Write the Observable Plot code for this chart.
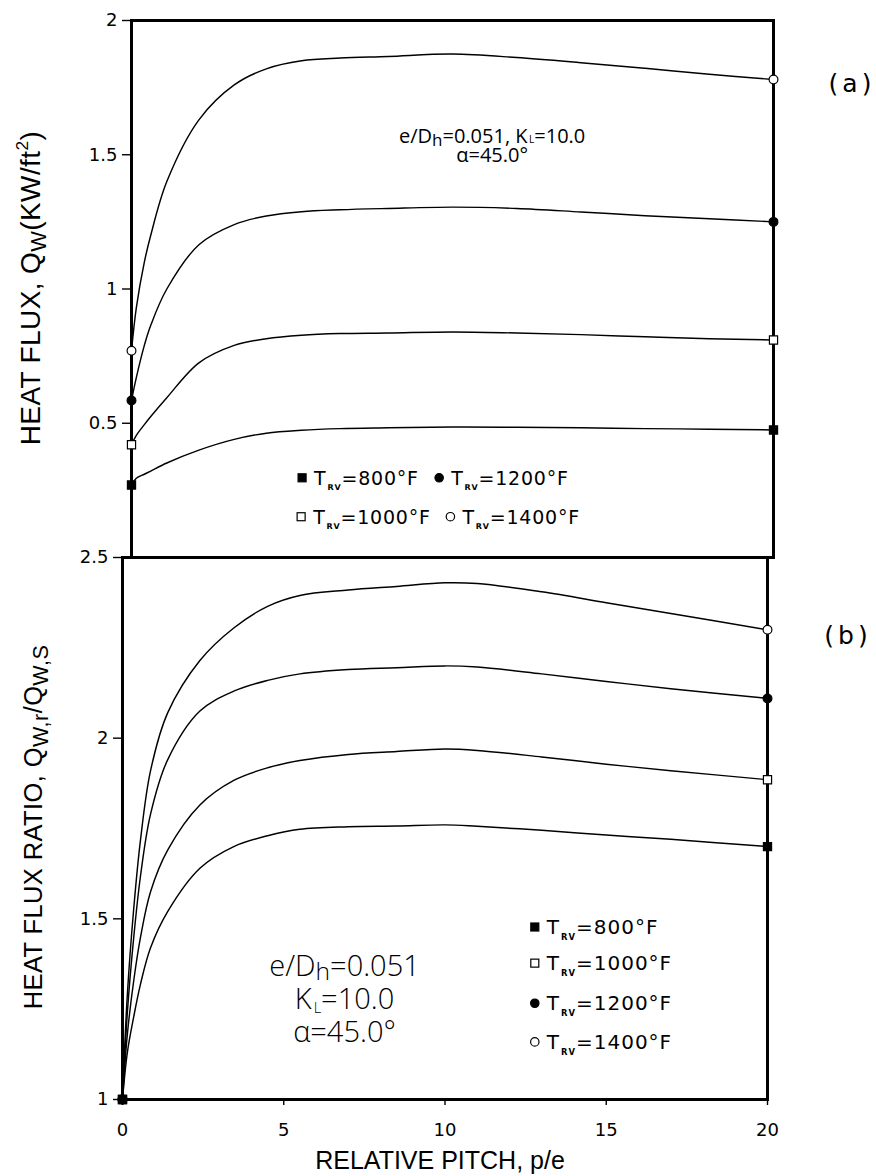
<!DOCTYPE html>
<html>
<head>
<meta charset="utf-8">
<script src="https://cdn.jsdelivr.net/npm/d3@7"></script>
<script src="https://cdn.jsdelivr.net/npm/@observablehq/plot@0.6"></script>
<style>
  html, body { margin: 0; padding: 0; background: #fff; }
  #wrap { position: relative; width: 876px; height: 1176px; overflow: hidden; background: #fff; }
  #wrap svg { position: absolute; left: 0; }
</style>
</head>
<body>
<div id="wrap"></div>
<script>
// ---------------- data ----------------
const seriesNames = ["800", "1000", "1200", "1400"];
const xTicks = [0, 5, 10, 15, 20];
const yTicksA = [0.5, 1, 1.5, 2];
const yTicksB = [1, 1.5, 2, 2.5];

// panel (a): heat flux Q_w (kW/ft^2) vs relative pitch p/e
const pitchA    = [0, 0.15, 0.4, 0.6, 1.1, 2.1, 3.2, 4.2, 5.3, 6.5, 8, 10, 12, 14, 16, 18, 20];
const fluxA800  = [0.27, 0.295, 0.31, 0.322, 0.352, 0.40, 0.44, 0.463, 0.474, 0.48, 0.483, 0.486, 0.485, 0.483, 0.48, 0.478, 0.475];
const fluxA1000 = [0.42, 0.455, 0.495, 0.525, 0.595, 0.725, 0.79, 0.815, 0.828, 0.834, 0.836, 0.84, 0.836, 0.83, 0.822, 0.815, 0.81];
const fluxA1200 = [0.585, 0.67, 0.79, 0.865, 1.00, 1.165, 1.24, 1.272, 1.288, 1.295, 1.30, 1.305, 1.30, 1.287, 1.273, 1.262, 1.25];
const fluxA1400 = [0.77, 0.93, 1.10, 1.20, 1.40, 1.63, 1.76, 1.82, 1.85, 1.86, 1.866, 1.875, 1.862, 1.843, 1.822, 1.80, 1.78];

// panel (b): heat flux ratio vs relative pitch p/e
const pitchB     = [0, 0.15, 0.35, 0.56, 0.87, 1.4, 2.4, 3.45, 4.5, 5.5, 7, 8.5, 10, 11, 13, 15, 17, 20];
const ratioB800  = [1, 1.13, 1.23, 1.32, 1.42, 1.52, 1.64, 1.70, 1.73, 1.748, 1.755, 1.757, 1.76, 1.756, 1.745, 1.732, 1.72, 1.70];
const ratioB1000 = [1, 1.18, 1.33, 1.45, 1.575, 1.69, 1.815, 1.883, 1.918, 1.938, 1.955, 1.963, 1.97, 1.966, 1.948, 1.928, 1.91, 1.885];
const ratioB1200 = [1, 1.24, 1.45, 1.62, 1.79, 1.94, 2.075, 2.13, 2.16, 2.178, 2.19, 2.195, 2.20, 2.197, 2.178, 2.157, 2.137, 2.11];
const ratioB1400 = [1, 1.29, 1.53, 1.72, 1.91, 2.07, 2.215, 2.305, 2.365, 2.395, 2.41, 2.42, 2.43, 2.428, 2.405, 2.375, 2.345, 2.30];

// ---------------- build tables ----------------
const fluxA = {"800": fluxA800, "1000": fluxA1000, "1200": fluxA1200, "1400": fluxA1400};
const ratioB = {"800": ratioB800, "1000": ratioB1000, "1200": ratioB1200, "1400": ratioB1400};
const rowsA = seriesNames.flatMap(s => pitchA.map((p, i) => ({s, p, v: fluxA[s][i], end: i === 0 || i === pitchA.length - 1})));
const rowsB = seriesNames.flatMap(s => pitchB.map((p, i) => ({s, p, v: ratioB[s][i], end: i === 0 || i === pitchB.length - 1})));

const markerStyle = {
  "800":  {symbol: "square", fill: "black", stroke: "black"},
  "1000": {symbol: "square", fill: "white", stroke: "black"},
  "1200": {symbol: "circle", fill: "black", stroke: "black"},
  "1400": {symbol: "circle", fill: "white", stroke: "black"}
};
const markerR = {square: 4.6, circle: 4.4};
const drawOrder = ["1400", "1000", "1200", "800"];

function endDots(rows) {
  return drawOrder.map(s => Plot.dot(rows.filter(d => d.s === s && d.end), {
    x: "p", y: "v", symbol: markerStyle[s].symbol, fill: markerStyle[s].fill,
    stroke: markerStyle[s].stroke, strokeWidth: 1.2, r: markerR[markerStyle[s].symbol]
  }));
}

const tickFont = "DejaVu Sans, sans-serif";
const titleFont = "Liberation Sans, Arial, sans-serif";
const noteFont = "Open Sans, Liberation Sans, sans-serif";

const W = 876;

// ---------------- panel (a) ----------------
const plotA = Plot.plot({
  width: W, height: 557,
  marginTop: 20, marginBottom: 0, marginLeft: 131, marginRight: 103,
  style: {background: "transparent", overflow: "visible", color: "black", fontFamily: tickFont},
  x: {domain: [0, 20], axis: null},
  y: {domain: [0, 2]},
  marks: [
    Plot.axisY({ticks: yTicksA, tickSize: 9, tickPadding: 5, tickFormat: d => String(d), label: null, fontSize: 18, strokeWidth: 1.4}),
    Plot.line(rowsA, {x: "p", y: "v", z: "s", curve: "catmull-rom", stroke: "black", strokeWidth: 1.45}),
    Plot.frame({stroke: "black", strokeWidth: 3}),
    ...endDots(rowsA)
  ]
});

// ---------------- panel (b) ----------------
const plotB = Plot.plot({
  width: W, height: 619,
  marginTop: 0, marginBottom: 77, marginLeft: 122, marginRight: 109,
  style: {background: "transparent", overflow: "visible", color: "black", fontFamily: tickFont},
  x: {domain: [0, 20]},
  y: {domain: [1, 2.5]},
  marks: [
    Plot.axisX({ticks: xTicks, tickSize: 6, tickPadding: 18, tickFormat: d => String(d), label: null, fontSize: 18, strokeWidth: 1.4}),
    Plot.axisY({ticks: yTicksB, tickSize: 9, tickPadding: 5, tickFormat: d => String(d), label: null, fontSize: 18, strokeWidth: 1.4}),
    Plot.line(rowsB, {x: "p", y: "v", z: "s", curve: "catmull-rom", stroke: "black", strokeWidth: 1.45}),
    Plot.frame({stroke: "black", strokeWidth: 3}),
    ...endDots(rowsB)
  ]
});

const wrap = document.getElementById("wrap");
plotA.style.top = "0px";
plotB.style.top = "557px";
wrap.appendChild(plotA);
wrap.appendChild(plotB);

// ---------------- rich text helper ----------------
// lines: array of lines; each line = array of parts [text, sizeFactor, shiftEm(down), weight, dxPx]
function rich(svg, x, y, lines, {size = 20, family = titleFont, weight = 400, anchor = "start", rotate = 0, spacing = 0, lineHeight = 0} = {}) {
  const g = d3.select(svg).append("g").attr("transform", `translate(${x},${y}) rotate(${rotate})`);
  const t = g.append("text")
    .attr("x", 0).attr("y", 0)
    .attr("text-anchor", anchor)
    .attr("font-family", family)
    .attr("font-weight", weight)
    .attr("font-size", size)
    .attr("letter-spacing", spacing)
    .attr("fill", "black");
  let prev = 0;
  lines.forEach((parts, li) => {
    parts.forEach(([str, f = 1, shift = 0, w, dx], pi) => {
      const sh = shift * size;
      const ts = t.append("tspan").text(str).attr("font-size", size * f);
      if (li > 0 && pi === 0) {
        ts.attr("x", 0).attr("dy", lineHeight + sh - prev);
      } else {
        ts.attr("dy", sh - prev);
      }
      if (w) ts.attr("font-weight", w);
      if (dx) ts.attr("dx", dx);
      prev = sh;
    });
  });
  return t;
}

// axis titles
rich(plotA, 40, 288, [[["HEAT FLUX, Q"], ["W", 0.78, 0.22], ["(KW/ft", 1, 0], ["2", 0.62, -0.42], [")", 1, 0]]],
  {size: 28, anchor: "middle", rotate: -90, spacing: 0.4}).attr("dy", "0.36em");
rich(plotB, 42, 270, [[["HEAT FLUX RATIO, Q"], ["W,r", 0.85, 0.22], ["/Q", 1, 0], ["W,S", 0.85, 0.22]]],
  {size: 25.5, anchor: "middle", rotate: -90, spacing: 0.4}).attr("dy", "0.36em");
rich(plotB, 440, 612, [[["RELATIVE PITCH, p/e"]]], {size: 25, anchor: "middle"});

// panel labels
rich(plotA, 852, 92, [[["(a)"]]], {size: 25, family: tickFont, anchor: "middle", spacing: 4});
rich(plotB, 848, 87, [[["(b)"]]], {size: 25, family: tickFont, anchor: "middle", spacing: 4});

// ---------------- legends & notes (placed in data units via Plot scales) ----------------
const xA = plotA.scale("x"), yA = plotA.scale("y");
const xB = plotB.scale("x"), yB = plotB.scale("y");

function legendEntry(svg, sx, sy, px, py, s, textOffsetPx, size, spacing) {
  const cx = sx.apply(px), cy = sy.apply(py);
  const st = markerStyle[s];
  const g = d3.select(svg).append("g");
  if (st.symbol === "square") {
    g.append("rect").attr("x", cx - 4).attr("y", cy - 4).attr("width", 8).attr("height", 8)
      .attr("fill", st.fill).attr("stroke", "black").attr("stroke-width", 1.2);
  } else {
    g.append("circle").attr("cx", cx).attr("cy", cy).attr("r", 4.2)
      .attr("fill", st.fill).attr("stroke", "black").attr("stroke-width", 1.2);
  }
  rich(svg, cx + textOffsetPx, cy + size * 0.36,
    [[["T"], ["RV", 0.42, 0.3, 700, 1], ["=" + s + "°F", 1, 0]]],
    {size, family: tickFont, spacing});
}

// panel (a) legend: two columns, two rows
const legA = [
  {s: "800",  p: 5.33, v: 0.295},
  {s: "1200", p: 9.6,  v: 0.295},
  {s: "1000", p: 5.3,  v: 0.15},
  {s: "1400", p: 9.95, v: 0.15}
];
legA.forEach(d => legendEntry(plotA, xA, yA, d.p, d.v, d.s, 12, 19, 0.8));

// panel (b) legend: one column
const legB = [
  {s: "800",  p: 12.8, v: 1.476},
  {s: "1000", p: 12.8, v: 1.376},
  {s: "1200", p: 12.8, v: 1.265},
  {s: "1400", p: 12.8, v: 1.158}
];
legB.forEach(d => legendEntry(plotB, xB, yB, d.p, d.v, d.s, 12, 20, 1));

// panel (a) note (two lines in one text)
rich(plotA, xA.apply(11.25), yA.apply(1.563) + 6,
  [
    [["e/D"], ["h", 0.85, 0.15], ["=0.051, K", 1, 0], ["L", 0.5, 0.0, null, 1.5], ["=10.0", 1, 0]],
    [["α=45.0°"]]
  ],
  {size: 20, family: noteFont, weight: 400, anchor: "middle", lineHeight: 19});

// panel (b) note (three lines in one text)
rich(plotB, xB.apply(6.9), yB.apply(1.365) + 9,
  [
    [["e/D"], ["h", 0.85, 0.15], ["=0.051", 1, 0]],
    [["K"], ["L", 0.5, 0.12, null, 2], ["=10.0", 1, 0]],
    [["α=45.0°"]]
  ],
  {size: 29, family: noteFont, weight: 300, anchor: "middle", lineHeight: 33});
</script>
</body>
</html>
